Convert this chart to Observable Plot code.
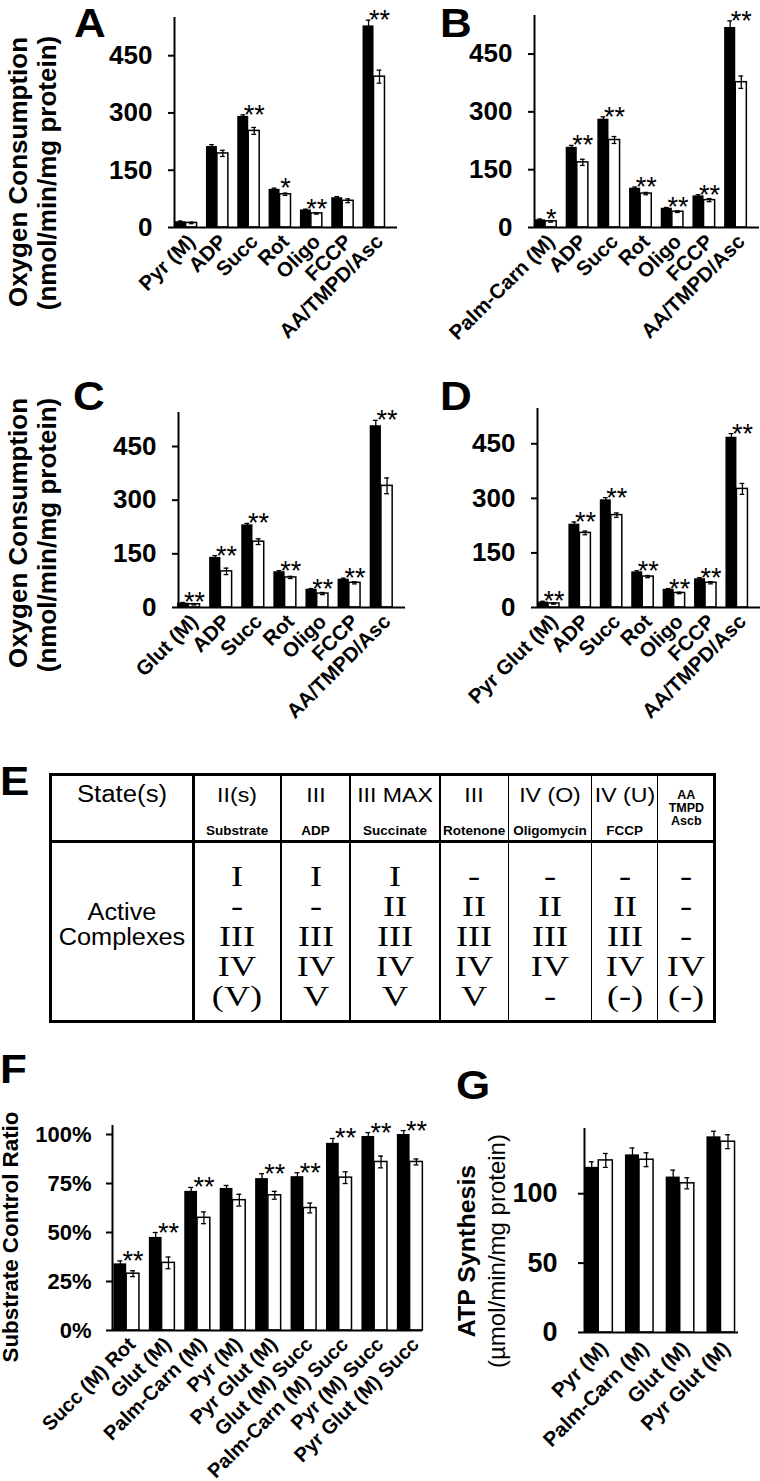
<!DOCTYPE html>
<html><head><meta charset="utf-8">
<script src="https://cdn.jsdelivr.net/npm/d3@7"></script>
<script src="https://cdn.jsdelivr.net/npm/@observablehq/plot@0.6"></script>
<style>
html,body{margin:0;padding:0;background:#fff;}
#page{position:relative;width:760px;height:1481px;overflow:hidden;background:#fff;color:#000;font-family:'Liberation Sans',Arial,Helvetica,sans-serif;}
.t{position:absolute;line-height:1;white-space:pre;color:#000;}
.box{position:absolute;background:#000;}
</style></head><body><div id="page"></div>
<script>
// ---------------- DATA ----------------
const catsA = ["Pyr (M)", "ADP", "Succ", "Rot", "Oligo", "FCCP", "AA/TMPD/Asc"];
const ctrlA = [15, 212, 291, 100, 46, 78, 528];
const ctrlErrA = [2, 5, 4, 3, 2, 3, 15];
const testA = [12, 194, 253, 87, 37, 70, 395];
const testErrA = [2, 8, 9, 3, 2, 5, 17];
const sigA = ["", "", "**", "*", "**", "", "**"];

const catsB = ["Palm-Carn (M)", "ADP", "Succ", "Rot", "Oligo", "FCCP", "AA/TMPD/Asc"];
const ctrlB = [20, 208, 281, 102, 50, 82, 519];
const ctrlErrB = [2, 5, 6, 3, 2, 3, 17];
const testB = [16, 169, 227, 88, 41, 71, 377];
const testErrB = [2, 8, 9, 3, 2, 4, 16];
const sigB = ["*", "**", "**", "**", "**", "**", "**"];

const catsC = ["Glut (M)", "ADP", "Succ", "Rot", "Oligo", "FCCP", "AA/TMPD/Asc"];
const ctrlC = [12, 140, 231, 100, 51, 79, 508];
const ctrlErrC = [2, 5, 4, 3, 2, 3, 15];
const testC = [9, 101, 184, 84, 39, 69, 340];
const testErrC = [2, 9, 8, 3, 3, 3, 22];
const sigC = ["**", "**", "**", "**", "**", "**", "**"];

const catsD = ["Pyr Glut (M)", "ADP", "Succ", "Rot", "Oligo", "FCCP", "AA/TMPD/Asc"];
const ctrlD = [15, 229, 296, 98, 50, 79, 468];
const ctrlErrD = [2, 6, 6, 3, 2, 3, 10];
const testD = [11, 205, 254, 85, 40, 68, 326];
const testErrD = [2, 5, 6, 3, 2, 3, 15];
const sigD = ["**", "**", "**", "**", "**", "**", "**"];

const catsF = ["Succ (M) Rot", "Glut (M)", "Palm-Carn (M)", "Pyr (M)", "Pyr Glut (M)", "Glut (M) Succ", "Palm-Carn (M) Succ", "Pyr (M) Succ", "Pyr Glut (M) Succ"];
const ctrlF = [34, 47.5, 71, 72.5, 77.5, 78.5, 95.5, 99, 100];
const ctrlErrF = [1.5, 2.5, 2, 1.5, 2.5, 2, 2.5, 2, 2];
const testF = [29, 34.5, 57.5, 66.5, 69, 62.5, 78, 86, 86];
const testErrF = [1.5, 3, 3, 3, 2, 2.5, 3, 3, 1.5];
const sigF = ["**", "**", "**", "", "**", "**", "**", "**", "**"];

const catsG = ["Pyr (M)", "Palm-Carn (M)", "Glut (M)", "Pyr Glut (M)"];
const ctrlG = [119, 128, 112, 141];
const ctrlErrG = [4, 5, 5, 4];
const testG = [124, 124.5, 107.5, 137.5];
const testErrG = [5, 5, 4, 5];
const sigG = ["", "", "", ""];

const ticksO2 = [0, 150, 300, 450];
const ticksF = [0, 25, 50, 75, 100];
const ticksG = [0, 50, 100];

const tableStates = ["II(s)", "III", "III MAX", "III", "IV (O)", "IV (U)"];
const tableAgents = ["Substrate", "ADP", "Succinate", "Rotenone", "Oligomycin", "FCCP"];
const tableLastHeader = ["AA", "TMPD", "Ascb"];
const tableComplexes = [
  ["I", "-", "III", "IV", "(V)"],
  ["I", "-", "III", "IV", "V"],
  ["I", "II", "III", "IV", "V"],
  ["-", "II", "III", "IV", "V"],
  ["-", "II", "III", "IV", "-"],
  ["-", "II", "III", "IV", "(-)"],
  ["-", "-", "-", "IV", "(-)"]
];

// ---------------- HELPERS ----------------
const FONT = "'Liberation Sans', Arial, Helvetica, sans-serif";
const SERIF = "'Liberation Serif', 'Times New Roman', Times, serif";
const page = document.getElementById("page");

function addText(str, o) {
  const el = document.createElement("div");
  el.className = "t";
  el.textContent = str;
  const size = o.size, fam = o.family || FONT;
  const base = fam === SERIF ? 0.8375 : 0.8465;
  el.style.fontFamily = fam;
  el.style.fontSize = size + "px";
  el.style.fontWeight = o.weight || "normal";
  el.style.left = o.x + "px";
  el.style.top = (o.y - base * size) + "px";
  const tx = o.anchor === "middle" ? "translateX(-50%)" : o.anchor === "end" ? "translateX(-100%)" : "";
  el.style.transformOrigin = o.anchor === "middle" ? "50% 50%" : o.anchor === "end" ? "100% 50%" : "0 50%";
  el.style.transform = tx + (o.sx ? ` scaleX(${o.sx})` : "");
  page.appendChild(el);
}
function addVText(str, o) {
  const el = document.createElement("div");
  el.className = "t";
  el.textContent = str;
  el.style.fontFamily = FONT;
  el.style.fontSize = o.size + "px";
  el.style.fontWeight = o.weight || "normal";
  el.style.left = o.cx + "px";
  el.style.top = o.cy + "px";
  el.style.transform = `translate(-50%,-50%) rotate(-90deg) scaleX(${o.sx || 1})`;
  page.appendChild(el);
}
function addBox(x, y, w, h) {
  const el = document.createElement("div");
  el.className = "box";
  Object.assign(el.style, {left: x + "px", top: y + "px", width: w + "px", height: h + "px"});
  page.appendChild(el);
}

function panel(p) {
  const rows = p.cats.map((c, i) => ({i, c: p.ctrl[i], ce: p.ctrlErr[i], t: p.test[i], te: p.testErr[i], sig: p.sig[i]}));
  const hw = p.half;
  const err = rows.flatMap(d => [
    {x: d.i - hw / 2, lo: d.c - d.ce, hi: d.c + d.ce},
    {x: d.i + hw / 2, lo: d.t - d.te, hi: d.t + d.te}
  ]);
  const svg = Plot.plot({
    width: p.width, height: p.height,
    marginLeft: p.ml, marginRight: 0, marginTop: p.mt, marginBottom: p.height - p.base,
    x: {type: "linear", domain: p.xDomain, axis: null},
    y: {type: "linear", domain: [0, p.yMax], axis: null},
    style: {background: "transparent", overflow: "visible", fontFamily: FONT, color: "black"},
    marks: [
      Plot.rect(rows, {x1: d => d.i - hw, x2: d => d.i, y1: () => 0, y2: d => d.c, fill: "black"}),
      Plot.rect(rows, {x1: d => d.i, x2: d => d.i + hw, y1: () => 0, y2: d => d.t, fill: "white", stroke: "black", strokeWidth: 1.5}),
      Plot.ruleX(err, {x: "x", y1: "lo", y2: "hi", stroke: "black", strokeWidth: 1.3}),
      Plot.ruleY(err, {y: "hi", x1: d => d.x - p.cap, x2: d => d.x + p.cap, stroke: "black", strokeWidth: 1.3}),
      Plot.ruleY(err, {y: "lo", x1: d => d.x - p.cap, x2: d => d.x + p.cap, stroke: "black", strokeWidth: 1.3}),
      Plot.ruleY([0], {stroke: "black", strokeWidth: 2}),
      Plot.ruleX([p.xDomain[0]], {stroke: "black", strokeWidth: 2}),
      Plot.axisY({ticks: p.yTicks, tickFormat: p.yFmt, tickSize: 6, tickPadding: p.yPad, fontSize: p.yFont, fontWeight: "bold", label: null, strokeWidth: 2}),
      Plot.axisX({ticks: rows.map(d => d.i), tickFormat: i => p.cats[i], tickRotate: -45, tickSize: 0, tickPadding: p.xPad, fontSize: p.xFont, fontWeight: "bold", label: null, textAnchor: "end", lineAnchor: "top"}),
      Plot.text(rows.filter(d => d.sig), {x: d => d.i + hw / 2, y: d => Math.max(d.c + d.ce, d.t + d.te), text: "sig", lineAnchor: "bottom", dy: p.sigDy, fontSize: p.sigFont, fill: "black"})
    ]
  });
  const wrap = document.createElement("div");
  Object.assign(wrap.style, {position: "absolute", left: p.left + "px", top: p.top + "px", width: p.width + "px", height: p.height + "px"});
  wrap.appendChild(svg);
  page.appendChild(wrap);
}

const common = {half: 0.35, cap: 0.075, yTicks: ticksO2, yFmt: d => String(d), yPad: 16, yFont: 26, xPad: 5, xFont: 20.5, sigDy: 9, sigFont: 27, height: 350, base: 227};
panel({...common, left: 0, top: 0, width: 397, ml: 174, mt: 17, xDomain: [-0.37, 6.75], yMax: 550,
  cats: catsA, ctrl: ctrlA, ctrlErr: ctrlErrA, test: testA, testErr: testErrA, sig: sigA});
panel({...common, left: 380, top: 0, width: 379, ml: 154, mt: 15, xDomain: [-0.35, 6.75], yMax: 550,
  cats: catsB, ctrl: ctrlB, ctrlErr: ctrlErrB, test: testB, testErr: testErrB, sig: sigB});
panel({...common, left: 0, top: 380, width: 405, ml: 178, mt: 32, xDomain: [-0.32, 6.75], yMax: 545,
  cats: catsC, ctrl: ctrlC, ctrlErr: ctrlErrC, test: testC, testErr: testErrC, sig: sigC});
panel({...common, left: 380, top: 380, width: 380, ml: 157, mt: 28, xDomain: [-0.35, 6.75], yMax: 547,
  cats: catsD, ctrl: ctrlD, ctrlErr: ctrlErrD, test: testD, testErr: testErrD, sig: sigD});
panel({...common, left: 0, top: 1100, width: 422, height: 381, base: 230, ml: 112, mt: 25, xDomain: [-0.4, 8.35], yMax: 104.6,
  half: 0.36, cap: 0.07, yTicks: ticksF, yFmt: d => d + "%", yPad: 15, yFont: 22, xPad: 5, xFont: 20,
  cats: catsF, ctrl: ctrlF, ctrlErr: ctrlErrF, test: testF, testErr: testErrF, sig: sigF});
panel({...common, left: 380, top: 1100, width: 358, height: 381, base: 232, ml: 204, mt: 28, xDomain: [-0.35, 3.43], yMax: 147,
  half: 0.345, cap: 0.06, yTicks: ticksG, yFmt: d => String(d), yPad: 21, yFont: 27, xPad: 7, xFont: 20.5,
  cats: catsG, ctrl: ctrlG, ctrlErr: ctrlErrG, test: testG, testErr: testErrG, sig: sigG});

// ---------------- PANEL LETTERS ----------------
[["A", 74, 37], ["B", 440, 37], ["C", 73, 410], ["D", 440, 410], ["E", 0, 795], ["F", 0, 1083], ["G", 456, 1099]]
  .forEach(([s, x, y]) => addText(s, {x, y, size: 40, weight: "bold", sx: 1.1}));

// ---------------- AXIS TITLES ----------------
addVText("Oxygen Consumption", {cx: 17.6, cy: 172, size: 26, weight: "bold"});
addVText("(nmol/min/mg protein)", {cx: 47, cy: 173, size: 26, weight: "bold"});
addVText("Oxygen Consumption", {cx: 17.6, cy: 533, size: 26, weight: "bold"});
addVText("(nmol/min/mg protein)", {cx: 47, cy: 535, size: 26, weight: "bold"});
addVText("Substrate Control Ratio", {cx: 11.8, cy: 1237, size: 21.5, weight: "bold", sx: 1.04});
addVText("ATP Synthesis", {cx: 466.7, cy: 1251, size: 24, weight: "bold", sx: 1.04});
addVText("(\u00b5mol/min/mg protein)", {cx: 496.7, cy: 1251, size: 24, weight: "normal"});

// ---------------- TABLE E ----------------
const colEdges = [49.3, 193.3, 281, 350, 440, 508.3, 591.7, 657.7, 715];
const tTop = 773, tBottom = 1023, tHead = 840;
const outer = document.createElement("div");
Object.assign(outer.style, {position: "absolute", left: "49px", top: tTop + "px", width: "667px", height: (tBottom - tTop) + "px", border: "3px solid #000", boxSizing: "border-box"});
page.appendChild(outer);
addBox(49, tHead, 667, 3);
addBox(192, tTop, 3, tBottom - tTop);
colEdges.slice(2, 8).forEach(x => addBox(x - 0.8, tTop, 1.6, tBottom - tTop));
const cx = i => (colEdges[i] + colEdges[i + 1]) / 2;
addText("State(s)", {x: cx(0) + 1, y: 802, size: 23, anchor: "middle", sx: 1.12});
tableStates.forEach((s, k) => addText(s, {x: cx(k + 1), y: 802, size: 21, anchor: "middle", sx: 1.1}));
tableAgents.forEach((s, k) => addText(s, {x: cx(k + 1), y: 835, size: 13.5, weight: "bold", anchor: "middle"}));
tableLastHeader.forEach((s, k) => addText(s, {x: cx(7), y: 800 + 13 * k, size: 12.5, weight: "bold", anchor: "middle"}));
addText("Active", {x: cx(0) + 1, y: 920, size: 23, anchor: "middle", sx: 1.1});
addText("Complexes", {x: cx(0) + 1, y: 945, size: 23, anchor: "middle", sx: 1.1});
tableComplexes.forEach((col, k) => col.forEach((s, r) =>
  addText(s, {x: cx(k + 1), y: 886.6 + 30 * r, size: 29, family: SERIF, anchor: "middle", sx: 1.25})));
</script></body></html>
